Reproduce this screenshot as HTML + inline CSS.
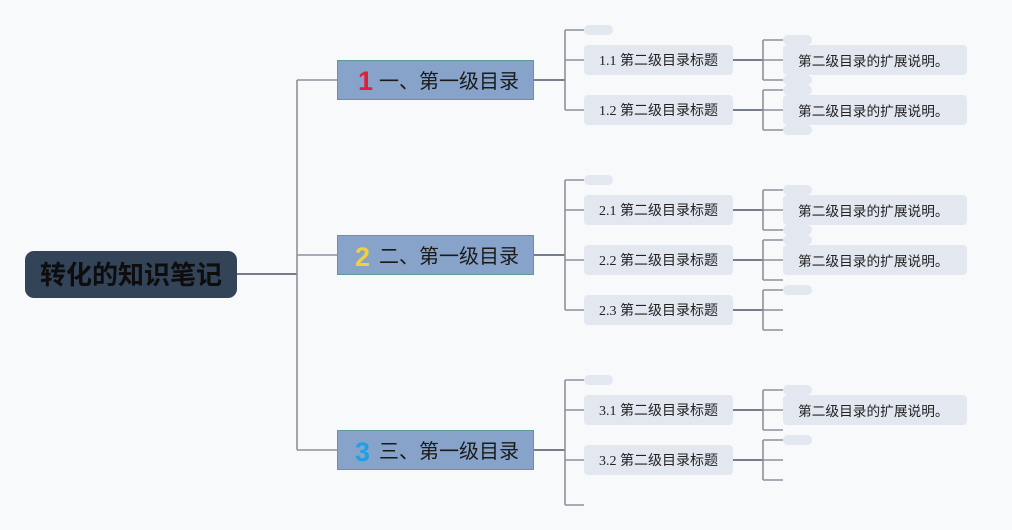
<!DOCTYPE html>
<html><head><meta charset="utf-8"><style>
html,body{margin:0;padding:0;background:#f8f9fa;}
svg{display:block;}
text{font-family:"Liberation Sans","Noto Sans CJK SC",sans-serif;}
.l2{font-family:"Liberation Serif","Noto Sans CJK SC",serif;font-size:14px;fill:#222;}
.l3{font-size:13.7px;fill:#222;}
.l1{font-size:20px;fill:#1a1a1a;}
</style></head><body>
<svg width="1012" height="530" viewBox="0 0 1012 530" xmlns="http://www.w3.org/2000/svg">
<rect width="1012" height="530" fill="#f8f9fa"/>
<g fill="none" stroke-width="1.6">
<path d="M237 274H297" stroke="#4a5668"/>
<path d="M297 80V450M297 80H337M297 255H337M297 450H337" stroke="#8c929c"/>
<path d="M534 80H565M534 255H565M534 450H565" stroke="#4a5668"/>
<path d="M565 30V110M565 30H584M565 60H584M565 110H584" stroke="#8c929c"/>
<path d="M565 180V310M565 180H584M565 210H584M565 260H584M565 310H584" stroke="#8c929c"/>
<path d="M565 380V505M565 380H584M565 410H584M565 460H584M565 505H584" stroke="#8c929c"/>
<g stroke="#4a5668">
<path d="M733 60H763M733 110H763M733 210H763M733 260H763M733 310H763M733 410H763M733 460H763"/>
</g>
<g stroke="#8c929c">
<path d="M763 40V80M763 40H783M763 60H783M763 80H783"/>
<path d="M763 90V130M763 90H783M763 110H783M763 130H783"/>
<path d="M763 190V230M763 190H783M763 210H783M763 230H783"/>
<path d="M763 240V280M763 240H783M763 260H783M763 280H783"/>
<path d="M763 290V330M763 290H783M763 310H783M763 330H783"/>
<path d="M763 390V430M763 390H783M763 410H783M763 430H783"/>
<path d="M763 440V480M763 440H783M763 460H783M763 480H783"/>
</g>
</g>
<rect x="25" y="251" width="212" height="47" rx="9" fill="#334358"/>
<text x="131" y="284" text-anchor="middle" font-size="26" font-weight="bold" fill="#0d0d0d">转化的知识笔记</text>
<g stroke="#5f9a9a" stroke-width="1" fill="#87a3c9">
<rect x="337.5" y="60.5" width="196" height="39"/>
<rect x="337.5" y="235.5" width="196" height="39"/>
<rect x="337.5" y="430.5" width="196" height="39"/>
</g>
<text x="358" y="90" font-size="27" font-weight="bold" fill="#e0203a">1</text>
<text x="379" y="88" class="l1">一、第一级目录</text>
<text x="355" y="266" font-size="27" font-weight="bold" fill="#f0d040">2</text>
<text x="379" y="263" class="l1">二、第一级目录</text>
<text x="355" y="461" font-size="27" font-weight="bold" fill="#1ea0e6">3</text>
<text x="379" y="458" class="l1">三、第一级目录</text>
<g fill="#e3e8f0">
<rect x="584" y="25" width="29" height="10" rx="5"/>
<rect x="584" y="175" width="29" height="10" rx="5"/>
<rect x="584" y="375" width="29" height="10" rx="5"/>
<rect x="584" y="45" width="149" height="30" rx="4"/>
<rect x="584" y="95" width="149" height="30" rx="4"/>
<rect x="584" y="195" width="149" height="30" rx="4"/>
<rect x="584" y="245" width="149" height="30" rx="4"/>
<rect x="584" y="295" width="149" height="30" rx="4"/>
<rect x="584" y="395" width="149" height="30" rx="4"/>
<rect x="584" y="445" width="149" height="30" rx="4"/>
</g>
<text x="599" y="65" class="l2">1.1 第二级目录标题</text>
<text x="599" y="115" class="l2">1.2 第二级目录标题</text>
<text x="599" y="215" class="l2">2.1 第二级目录标题</text>
<text x="599" y="265" class="l2">2.2 第二级目录标题</text>
<text x="599" y="315" class="l2">2.3 第二级目录标题</text>
<text x="599" y="415" class="l2">3.1 第二级目录标题</text>
<text x="599" y="465" class="l2">3.2 第二级目录标题</text>
<g fill="#e3e8f0">
<rect x="783" y="35" width="29" height="10" rx="5"/><rect x="783" y="75" width="29" height="10" rx="5"/>
<rect x="783" y="85" width="29" height="10" rx="5"/><rect x="783" y="125" width="29" height="10" rx="5"/>
<rect x="783" y="185" width="29" height="10" rx="5"/><rect x="783" y="225" width="29" height="10" rx="5"/>
<rect x="783" y="235" width="29" height="10" rx="5"/>
<rect x="783" y="285" width="29" height="10" rx="5"/>
<rect x="783" y="385" width="29" height="10" rx="5"/>
<rect x="783" y="435" width="29" height="10" rx="5"/>
<rect x="783" y="45" width="184" height="30" rx="4"/>
<rect x="783" y="95" width="184" height="30" rx="4"/>
<rect x="783" y="195" width="184" height="30" rx="4"/>
<rect x="783" y="245" width="184" height="30" rx="4"/>
<rect x="783" y="395" width="184" height="30" rx="4"/>
</g>
<text x="798" y="66" class="l3">第二级目录的扩展说明。</text>
<text x="798" y="116" class="l3">第二级目录的扩展说明。</text>
<text x="798" y="216" class="l3">第二级目录的扩展说明。</text>
<text x="798" y="266" class="l3">第二级目录的扩展说明。</text>
<text x="798" y="416" class="l3">第二级目录的扩展说明。</text>
</svg>
</body></html>
